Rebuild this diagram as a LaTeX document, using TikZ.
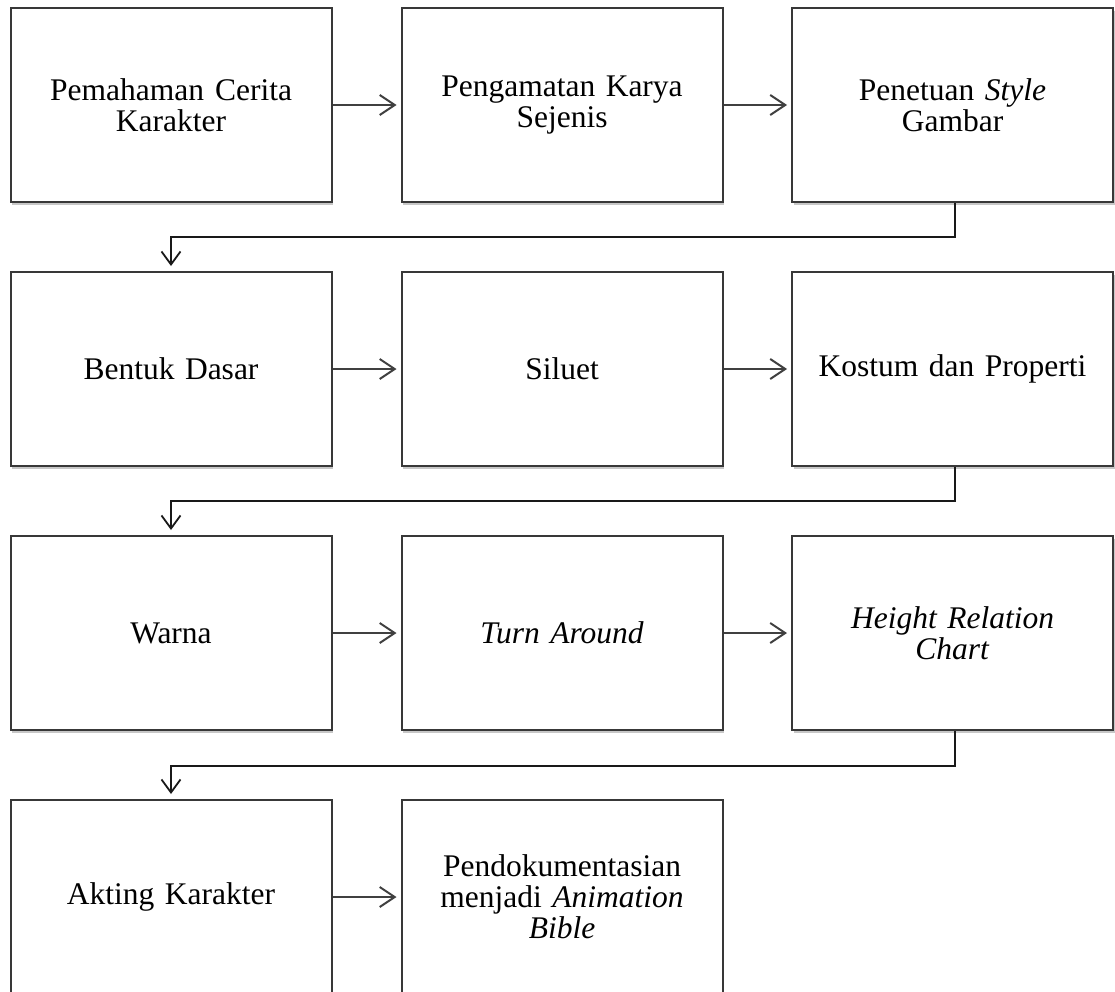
\documentclass[tikz,border=0pt]{standalone}
\usepackage{fontspec}
\setmainfont{Liberation Serif}
\usetikzlibrary{arrows.meta,shadows}
\tikzset{
  flowbox/.style={draw=black!78, line width=2pt, fill=white, rectangle,
    minimum width=321pt, minimum height=194pt, inner sep=0pt,
    text width=312pt, align=center,
    font=\fontsize{31.5pt}{31pt}\selectfont,
    drop shadow={shadow xshift=1.5pt, shadow yshift=-2.5pt, opacity=0.22, fill=black}},
  flowarrow/.style={draw=black!75, line width=2.2pt, shorten >=4pt,
    -{Straight Barb[length=15pt,width=20pt,line width=2pt]}},
  turnarrow/.style={draw=black!90, line width=2pt, shorten >=5pt,
    -{Straight Barb[length=13pt,width=19pt,line width=1.8pt]}}
}
\begin{document}
\begin{tikzpicture}[x=1pt,y=-1pt]
\useasboundingbox (0,0) rectangle (1115,991);
% row 1
\node[flowbox] (a1) at (171,105) {Pemahaman\hspace{0.35em}Cerita\\Karakter};
\node[flowbox] (a2) at (562,105) {Pengamatan Karya\\Sejenis};
\node[flowbox] (a3) at (952.5,105) {Penetuan \textit{Style}\\Gambar};
% row 2
\node[flowbox] (b1) at (171,369) {Bentuk Dasar};
\node[flowbox] (b2) at (562,369) {Siluet};
\node[flowbox] (b3) at (952.5,369) {Kostum dan Properti};
% row 3
\node[flowbox] (c1) at (171,633) {Warna};
\node[flowbox] (c2) at (562,633) {\textit{Turn Around}};
\node[flowbox] (c3) at (952.5,633) {\textit{Height Relation}\\\textit{Chart}};
% row 4
\node[flowbox] (d1) at (171,897) {Akting Karakter};
\node[flowbox] (d2) at (562,897) {Pendokumentasian\\menjadi \textit{Animation}\\\textit{Bible}};
% horizontal arrows
\draw[flowarrow] (a1.east) -- (a2.west);
\draw[flowarrow] (a2.east) -- (a3.west);
\draw[flowarrow] (b1.east) -- (b2.west);
\draw[flowarrow] (b2.east) -- (b3.west);
\draw[flowarrow] (c1.east) -- (c2.west);
\draw[flowarrow] (c2.east) -- (c3.west);
\draw[flowarrow] (d1.east) -- (d2.west);
% row-to-row connectors
\coordinate (m1) at ([xshift=2pt]a3.south |- 0,237);
\coordinate (m2) at ([xshift=2pt]b3.south |- 0,501);
\coordinate (m3) at ([xshift=2pt]c3.south |- 0,766);
\draw[turnarrow] ([xshift=2pt]a3.south) -- (m1) -| (b1.north);
\draw[turnarrow] ([xshift=2pt]b3.south) -- (m2) -| (c1.north);
\draw[turnarrow] ([xshift=2pt]c3.south) -- (m3) -| (d1.north);
\end{tikzpicture}
\end{document}
